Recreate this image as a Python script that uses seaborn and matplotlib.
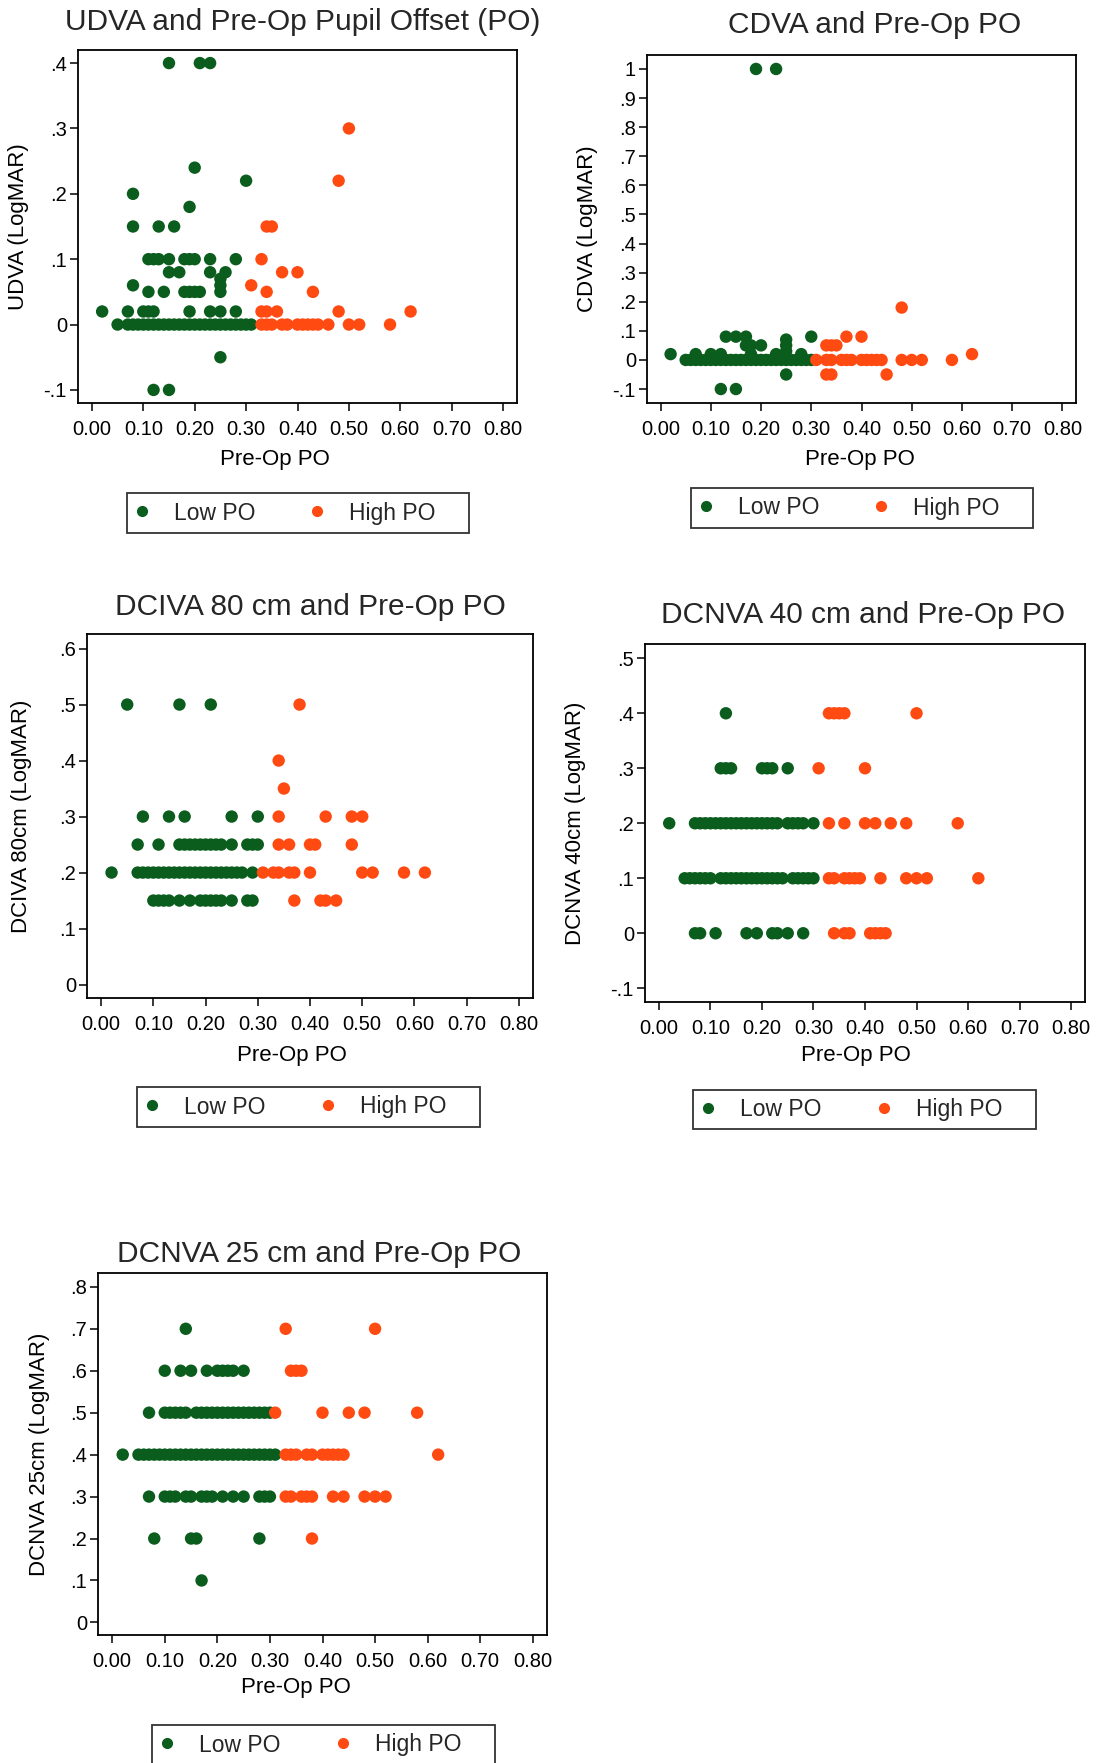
import matplotlib
matplotlib.use('Agg')
import matplotlib.pyplot as plt
import seaborn as sns
import pandas as pd

sns.set_theme(style='white')
plt.rcParams['font.family'] = ['Liberation Sans', 'DejaVu Sans']

W, H = 1097, 1763
GREEN = '#0b5d1e'
ORANGE = '#ff4a12'

# rows: y value -> list of Pre-Op PO values
udva_low = {0.4: [0.15, 0.21, 0.23], 0.24: [0.20], 0.22: [0.30], 0.2: [0.08], 0.18: [0.19],
            0.15: [0.08, 0.13, 0.16],
            0.1: [0.11, 0.12, 0.13, 0.15, 0.18, 0.19, 0.20, 0.23, 0.28],
            0.08: [0.15, 0.17, 0.23, 0.26], 0.07: [0.25], 0.06: [0.08, 0.25],
            0.05: [0.11, 0.14, 0.18, 0.19, 0.20, 0.21, 0.25],
            0.02: [0.02, 0.07, 0.10, 0.11, 0.12, 0.19, 0.23, 0.25, 0.28],
            0.0: [0.05, 0.07, 0.08, 0.09, 0.10, 0.11, 0.12, 0.13, 0.14, 0.15, 0.16, 0.17, 0.18,
                  0.19, 0.20, 0.21, 0.22, 0.23, 0.24, 0.25, 0.26, 0.27, 0.28, 0.29, 0.30, 0.31],
            -0.05: [0.25], -0.1: [0.12, 0.15]}
udva_high = {0.3: [0.50], 0.22: [0.48], 0.15: [0.34, 0.35], 0.1: [0.33], 0.08: [0.37, 0.40],
             0.06: [0.31], 0.05: [0.34, 0.43], 0.02: [0.33, 0.34, 0.36, 0.48, 0.62],
             0.0: [0.33, 0.34, 0.35, 0.37, 0.38, 0.40, 0.41, 0.42, 0.43, 0.44, 0.46, 0.50, 0.52, 0.58]}

cdva_low = {1.0: [0.19, 0.23], 0.08: [0.13, 0.15, 0.17, 0.30], 0.07: [0.25],
            0.05: [0.17, 0.18, 0.20, 0.25], 0.03: [0.25],
            0.02: [0.02, 0.07, 0.10, 0.12, 0.18, 0.23, 0.28],
            0.0: [0.05, 0.06, 0.07, 0.08, 0.09, 0.10, 0.11, 0.12, 0.13, 0.14, 0.15, 0.16, 0.17,
                  0.18, 0.19, 0.20, 0.21, 0.22, 0.23, 0.24, 0.25, 0.26, 0.27, 0.28, 0.29, 0.30],
            -0.05: [0.25], -0.1: [0.12, 0.15]}
cdva_high = {0.18: [0.48], 0.08: [0.37, 0.40], 0.05: [0.33, 0.34, 0.35], 0.02: [0.62],
             0.0: [0.31, 0.33, 0.34, 0.36, 0.37, 0.38, 0.40, 0.41, 0.42, 0.43, 0.44, 0.48, 0.50,
                   0.52, 0.58],
             -0.05: [0.33, 0.34, 0.45]}

dciva_low = {0.5: [0.05, 0.15, 0.21], 0.3: [0.08, 0.13, 0.16, 0.25, 0.30],
             0.25: [0.07, 0.11, 0.15, 0.16, 0.17, 0.18, 0.19, 0.20, 0.21, 0.22, 0.23, 0.25, 0.28,
                    0.29, 0.30],
             0.2: [0.02, 0.07, 0.08, 0.09, 0.10, 0.11, 0.12, 0.13, 0.14, 0.15, 0.16, 0.17, 0.18,
                   0.19, 0.20, 0.21, 0.22, 0.23, 0.24, 0.25, 0.26, 0.27, 0.29],
             0.15: [0.10, 0.11, 0.12, 0.13, 0.15, 0.17, 0.19, 0.20, 0.21, 0.22, 0.23, 0.25, 0.28,
                    0.29]}
dciva_high = {0.5: [0.38], 0.4: [0.34], 0.35: [0.35], 0.3: [0.34, 0.43, 0.48, 0.50],
              0.25: [0.34, 0.36, 0.40, 0.41, 0.48],
              0.2: [0.31, 0.33, 0.34, 0.36, 0.37, 0.40, 0.50, 0.52, 0.58, 0.62],
              0.15: [0.37, 0.42, 0.43, 0.45]}

dcnva40_low = {0.4: [0.13], 0.3: [0.12, 0.13, 0.14, 0.20, 0.21, 0.22, 0.25],
               0.2: [0.02, 0.07, 0.08, 0.09, 0.10, 0.11, 0.12, 0.13, 0.14, 0.15, 0.16, 0.17, 0.18,
                     0.19, 0.20, 0.21, 0.22, 0.23, 0.25, 0.26, 0.27, 0.28, 0.30],
               0.1: [0.05, 0.06, 0.07, 0.08, 0.09, 0.10, 0.12, 0.13, 0.14, 0.15, 0.16, 0.17, 0.18,
                     0.19, 0.20, 0.21, 0.22, 0.23, 0.24, 0.26, 0.27, 0.28, 0.29, 0.30],
               0.0: [0.07, 0.08, 0.11, 0.17, 0.19, 0.22, 0.23, 0.25, 0.28]}
dcnva40_high = {0.4: [0.33, 0.34, 0.35, 0.36, 0.50], 0.3: [0.31, 0.40],
                0.2: [0.33, 0.36, 0.40, 0.42, 0.45, 0.48, 0.58],
                0.1: [0.33, 0.34, 0.36, 0.37, 0.38, 0.39, 0.43, 0.48, 0.50, 0.52, 0.62],
                0.0: [0.34, 0.36, 0.37, 0.41, 0.42, 0.43, 0.44]}

dcnva25_low = {0.7: [0.14], 0.6: [0.10, 0.13, 0.15, 0.18, 0.20, 0.21, 0.22, 0.23, 0.25],
               0.5: [0.07, 0.10, 0.11, 0.12, 0.13, 0.14, 0.16, 0.17, 0.18, 0.19, 0.20, 0.21, 0.22,
                     0.23, 0.24, 0.25, 0.26, 0.27, 0.28, 0.29, 0.30],
               0.4: [0.02, 0.05, 0.06, 0.07, 0.08, 0.09, 0.10, 0.11, 0.12, 0.13, 0.14, 0.15, 0.16,
                     0.17, 0.18, 0.19, 0.20, 0.21, 0.22, 0.23, 0.24, 0.25, 0.26, 0.27, 0.28, 0.29,
                     0.30, 0.31],
               0.3: [0.07, 0.10, 0.11, 0.12, 0.14, 0.15, 0.17, 0.18, 0.19, 0.21, 0.23, 0.25, 0.28,
                     0.29, 0.30],
               0.2: [0.08, 0.15, 0.16, 0.28], 0.1: [0.17]}
dcnva25_high = {0.7: [0.33, 0.50], 0.6: [0.34, 0.35, 0.36], 0.5: [0.31, 0.40, 0.45, 0.48, 0.58],
                0.4: [0.33, 0.34, 0.35, 0.37, 0.38, 0.40, 0.41, 0.42, 0.43, 0.44, 0.62],
                0.3: [0.33, 0.34, 0.36, 0.37, 0.38, 0.42, 0.44, 0.48, 0.50, 0.52],
                0.2: [0.38]}

x_ticks = [0.0, 0.1, 0.2, 0.3, 0.4, 0.5, 0.6, 0.7, 0.8]
x_ticklabels = ['0.00', '0.10', '0.20', '0.30', '0.40', '0.50', '0.60', '0.70', '0.80']


def to_frame(low, high):
    rows = []
    for grp, d in (('Low PO', low), ('High PO', high)):
        for yv, xs in d.items():
            for xv in xs:
                rows.append((xv, yv, grp))
    return pd.DataFrame(rows, columns=['po', 'va', 'group'])


# panel specs: data, title, ylabel, yticks, ytick labels, ylim,
# axes box (px: left, top, right, bottom), title centre, ylabel x, xlabel centre, legend box (px)
panels = [
    (udva_low, udva_high, 'UDVA and Pre-Op Pupil Offset (PO)', 'UDVA (LogMAR)',
     [-0.1, 0, 0.1, 0.2, 0.3, 0.4], ['-.1', '0', '.1', '.2', '.3', '.4'], (-0.12, 0.42),
     (78, 50, 517, 403), (303, 22), 19, (275, 460), (126, 492, 470, 534)),
    (cdva_low, cdva_high, 'CDVA and Pre-Op PO', 'CDVA (LogMAR)',
     [-0.1, 0, 0.1, 0.2, 0.3, 0.4, 0.5, 0.6, 0.7, 0.8, 0.9, 1.0],
     ['-.1', '0', '.1', '.2', '.3', '.4', '.5', '.6', '.7', '.8', '.9', '1'], (-0.148, 1.048),
     (647, 55, 1076, 403), (875, 25), 587, (860, 460), (694, 487, 1030, 529)),
    (dciva_low, dciva_high, 'DCIVA 80 cm and Pre-Op PO', 'DCIVA 80cm (LogMAR)',
     [0, 0.1, 0.2, 0.3, 0.4, 0.5, 0.6], ['0', '.1', '.2', '.3', '.4', '.5', '.6'], (-0.024, 0.626),
     (87, 634, 533, 998), (310, 607), 22, (292, 1056), (137, 1087, 480, 1127)),
    (dcnva40_low, dcnva40_high, 'DCNVA 40 cm and Pre-Op PO', 'DCNVA 40cm (LogMAR)',
     [-0.1, 0, 0.1, 0.2, 0.3, 0.4, 0.5], ['-.1', '0', '.1', '.2', '.3', '.4', '.5'], (-0.125, 0.526),
     (645, 644, 1085, 1002), (863, 615), 575, (856, 1056), (694, 1089, 1035, 1130)),
    (dcnva25_low, dcnva25_high, 'DCNVA 25 cm and Pre-Op PO', 'DCNVA 25cm (LogMAR)',
     [0, 0.1, 0.2, 0.3, 0.4, 0.5, 0.6, 0.7, 0.8], ['0', '.1', '.2', '.3', '.4', '.5', '.6', '.7', '.8'],
     (-0.030, 0.833), (98, 1273, 547, 1635), (319, 1254), 40, (296, 1688), (152, 1724, 495, 1766)),
]

fig = plt.figure(figsize=(W / 100, H / 100), dpi=100)
fig.patch.set_facecolor('white')

for low, high, title, ylab, yt, ytl, ylim, box, tpos, ylx, xlpos, lbox in panels:
    l, t, r, b = box
    ax = fig.add_axes([l / W, 1 - b / H, (r - l) / W, (b - t) / H])
    df = to_frame(low, high)
    sns.scatterplot(data=df, x='po', y='va', hue='group', hue_order=['Low PO', 'High PO'],
                    palette=[GREEN, ORANGE], s=80, marker='o', linewidth=0, ax=ax, legend=False)
    ax.set_xlim(-0.027, 0.827)
    ax.set_ylim(*ylim)
    ax.set_xticks(x_ticks)
    ax.set_xticklabels(x_ticklabels)
    ax.set_yticks(yt)
    ax.set_yticklabels(ytl)
    ax.tick_params(axis='both', direction='out', length=6, width=1.1, colors='black',
                   labelsize=14.5, bottom=True, left=True)
    ax.tick_params(axis='x', pad=6)
    ax.tick_params(axis='y', pad=2)
    for sp in ax.spines.values():
        sp.set_color('black')
        sp.set_linewidth(1.3)
    ax.set_xlabel('Pre-Op PO', fontsize=16, color='black')
    ax.xaxis.set_label_coords((xlpos[0] - l) / (r - l), (b - xlpos[1]) / (b - t))
    ax.xaxis.label.set_va('center')
    ax.set_ylabel(ylab, fontsize=16, color='black')
    ax.yaxis.set_label_coords((ylx - l) / (r - l), 0.5)
    ax.yaxis.label.set_va('center')
    fig.text(tpos[0] / W, 1 - tpos[1] / H, title, fontsize=21.5, ha='center', va='center')

    handles = [plt.Line2D([], [], marker='o', linestyle='', color=c, markersize=7)
               for c in (GREEN, ORANGE)]
    ll, lt, lr, lb = lbox
    leg = ax.legend(handles, ['Low PO', 'High PO    '], loc='center', ncol=2,
                    bbox_to_anchor=((ll + lr) / 2 / W, 1 - (lt + lb) / 2 / H),
                    bbox_transform=fig.transFigure, fontsize=16.5, frameon=True, fancybox=False,
                    handlelength=0.6, handletextpad=1.1, columnspacing=2.4, borderpad=0.35)
    leg.get_frame().set_edgecolor('black')
    leg.get_frame().set_linewidth(1.3)

fig.savefig('out.png', dpi=100, facecolor='white')
